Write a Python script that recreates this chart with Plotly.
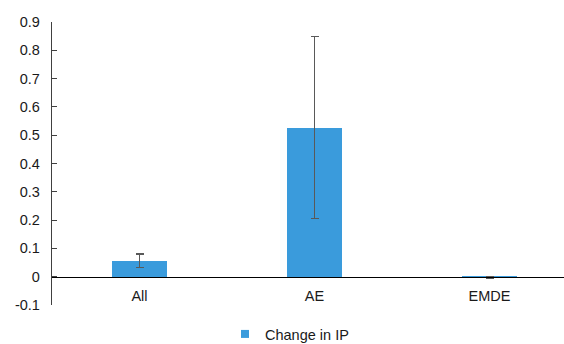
import plotly.graph_objects as go

categories = ["All", "AE", "EMDE"]
values = [0.057, 0.527, -0.004]
err_plus = [0.024, 0.322, 0.003]
err_minus = [0.025, 0.322, 0.003]
y_ticks = [-0.1, 0, 0.1, 0.2, 0.3, 0.4, 0.5, 0.6, 0.7, 0.8, 0.9]
y_ticktext = ["-0.1", "0", "0.1", "0.2", "0.3", "0.4", "0.5", "0.6", "0.7", "0.8", "0.9"]
series_name = "Change in IP"
bar_color = "#3A9BDC"

fig = go.Figure()
fig.add_trace(go.Bar(
    x=categories, y=values, name=series_name, showlegend=False,
    marker=dict(color=bar_color, line=dict(width=0)),
    width=0.314,
    error_y=dict(type="data", symmetric=False, array=err_plus, arrayminus=err_minus,
                 color="#595959", thickness=1.5, width=4),
))
# legend entry with small square swatch like the reference
fig.add_trace(go.Scatter(
    x=[None], y=[None], mode="markers", name=series_name,
    marker=dict(symbol="square", size=8, color=bar_color),
))

H = 283
fig.update_layout(
    width=564, height=344,
    margin=dict(l=52, r=0, t=22, b=39, autoexpand=False),
    paper_bgcolor="white", plot_bgcolor="white",
    font=dict(family="Liberation Sans, Arial, sans-serif", size=14.5, color="#1a1a1a"),
    showlegend=True,
    legend=dict(orientation="h", x=(225 - 52) / 512, xanchor="left",
                y=-(334 - 305) / H, yanchor="middle",
                font=dict(size=14.5), itemwidth=30, bgcolor="rgba(0,0,0,0)"),
    bargap=0,
)
fig.update_xaxes(
    range=[-0.5, -0.5 + 512 / 175], anchor="free", position=(305 - 277) / H,
    showline=True, linecolor="#000000", linewidth=1.3, ticks="", showgrid=False,
    tickfont=dict(size=14.5), zeroline=False, automargin=False, ticklabelstandoff=5,
)
fig.update_yaxes(
    range=[-0.1, 0.9], tickvals=y_ticks, ticktext=y_ticktext,
    showline=True, linecolor="#404040", linewidth=1.3,
    ticks="inside", ticklen=5, tickcolor="#404040", tickwidth=1.3,
    showgrid=False, zeroline=False, tickfont=dict(size=14.5), ticklabelstandoff=8,
    automargin=False,
)

fig.write_html("out.html")
